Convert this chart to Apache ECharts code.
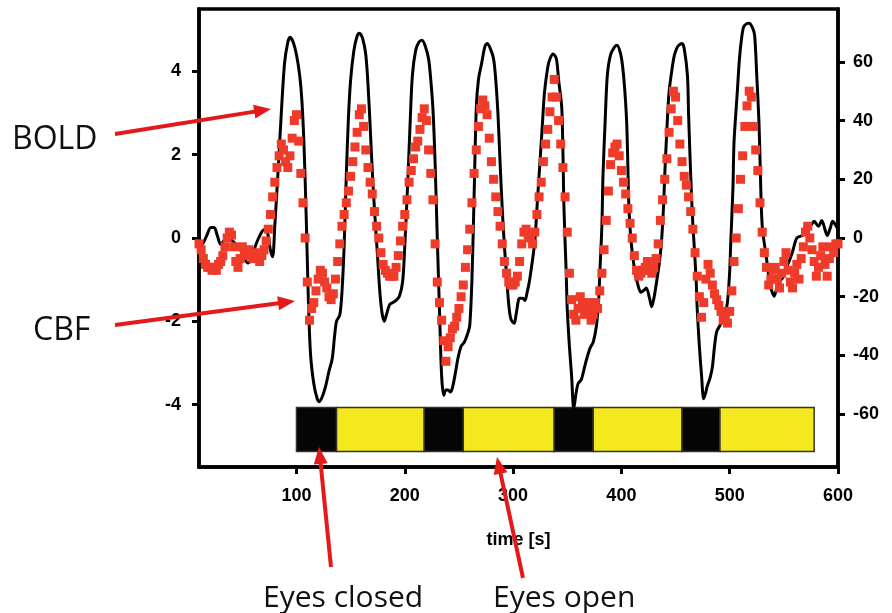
<!DOCTYPE html>
<html>
<head>
<meta charset="utf-8">
<script src="https://cdn.jsdelivr.net/npm/echarts@6/dist/echarts.min.js"></script>
<style>
html,body{margin:0;padding:0;background:#fff;}
#chart{width:892px;height:613px;}
</style>
</head>
<body>
<div id="chart"></div>
<script>
// ---- tick labels ----
const timeTicks = [100, 200, 300, 400, 500, 600];
const boldTicks = [-4, -2, 0, 2, 4];
const cbfTicks = [-60, -40, -20, 0, 20, 40, 60];

// ---- BOLD signal (left axis, %) ----
const boldTime = [10,13,17,21,24,27,30,34,39,44,50,55,58,62,66,70,73,76,78,80,83,86,89,92,94,97,100,103,105,107,109,111,113,116,119,121,124,127,130,133,135,137,140,142,144,146,148,150,153,156,158,161,164,166,168,170,172,175,177,179,181,183,186,189,192,195,198,200,203,205,207,210,213,216,219,222,224,226,228,230,232,234,236,238,240,242,244,247,249,252,255,258,260,262,264,266,268,271,274,276,279,282,284,286,288,290,292,294,296,298,301,303,306,309,311,313,315,317,320,322,324,327,329,332,334,337,340,342,345,347,349,350,352,354,356,358,360,363,366,368,371,374,377,379,380,382,383,385,387,390,394,396,399,401,403,405,407,409,412,415,418,421,423,426,428,430,432,435,437,439,440,442,444,447,449,452,456,458,461,462,464,466,467,469,470,472,474,476,478,479,482,484,486,488,491,493,496,498,500,501,503,504,507,509,511,513,516,518,521,523,525,527,528,530,534,536,538,541,543,546,549,552,555,558,562,567,571,575,578,582,585,588,590,593,595,598,600];
const boldValues = [0,-0.15,0.05,0.25,0.25,0.05,-0.15,-0.05,-0.05,-0.15,-0.35,-0.6,-0.55,-0.2,0.05,0.2,0.15,-0.3,-0.45,0.3,1.6,3.0,4.2,4.7,4.82,4.7,4.4,3.9,3.3,2.2,0.5,-1.5,-2.8,-3.5,-3.85,-3.93,-3.8,-3.55,-3.2,-2.9,-2.4,-2.0,-1.85,-1.3,-0.2,1.5,2.9,3.8,4.5,4.85,4.92,4.8,4.4,3.7,2.7,1.6,0.7,-0.5,-1.3,-1.8,-2.0,-1.85,-1.6,-1.55,-1.5,-1.4,-1.05,-0.2,1.5,2.8,3.9,4.5,4.7,4.75,4.6,4.3,3.8,3.1,1.8,0.0,-1.7,-3.3,-3.78,-3.65,-3.65,-3.7,-3.6,-3.2,-2.9,-2.6,-2.5,-2.3,-2.1,-1.0,1.0,3.1,3.8,4.2,4.6,4.67,4.55,4.3,3.8,3.0,1.8,0.7,-0.2,-0.9,-1.6,-1.95,-2.05,-1.8,-1.45,-1.45,-1.5,-1.3,-1.05,-0.7,-0.1,0.7,1.5,2.7,3.5,4.1,4.3,4.42,4.3,3.8,3.1,0.7,-0.8,-1.7,-2.6,-3.3,-4.1,-3.75,-3.5,-3.4,-3.1,-2.9,-2.65,-2.5,-2.1,-1.5,-0.9,0.3,1.5,2.8,3.9,4.4,4.6,4.63,4.45,4.15,3.6,2.7,0.7,-0.1,-0.73,-1.1,-1.3,-1.25,-1.2,-1.45,-1.65,-1.45,-1.14,-0.6,-0.1,0.8,1.5,2.6,3.5,4.1,4.4,4.6,4.67,4.55,3.9,3.0,1.5,0.3,-0.1,-1.0,-1.7,-2.6,-3.3,-3.86,-3.7,-3.58,-3.35,-3.1,-2.6,-2.25,-2.1,-2.0,-1.8,-1.53,-0.8,-0.1,1.2,2.3,3.5,4.3,4.8,5.08,5.15,5.16,5.05,4.87,3.9,2.8,1.9,0.3,-0.5,-0.9,-1.2,-1.4,-1.25,-1.05,-0.95,-0.73,-0.55,-0.33,0,0.06,0.15,0.3,0.4,0.28,0.42,0.2,0.06,0.25,0.4,0.3,0.2];

// ---- CBF signal (right axis, %), sampled every 2 s from t = 10 s ----
const cbfStart = 10;
const cbfStep = 2;
const cbfValues = [
 -2,-4,-7,-9,-10,-10,-11,-10,-11,-9,
 -8,-6,-3,0,2,1,-3,-8,-10,-7,
 -3,-5,-6,-4,-6,-7,-5,-7,-8,-6,
 -4,-1,3,8,14,19,24,28,32,30,
 26,24,28,34,40,42,33,22,12,0,
 -15,-28,-24,-22,-18,-14,-11,-12,-15,-17,
 -20,-21,-19,-14,-8,-2,4,8,12,16,
 21,26,31,36,42,44,38,30,24,19,
 15,9,4,0,-5,-9,-11,-12,-13,-13,
 -13,-10,-6,-1,4,8,13,19,23,27,
 31,33,37,41,44,40,30,22,13,-2,
 -15,-22,-28,-35,-42,-37,-34,-31,-30,-27,
 -24,-20,-16,-10,-4,3,12,22,30,38,
 44,47,45,42,34,26,20,14,9,4,
 -2,-8,-12,-15,-16,-16,-15,-13,-8,-2,
 2,3,1,0,-2,2,8,14,19,26,
 32,37,43,48,54,48,40,32,24,14,
 2,-12,-21,-26,-28,-24,-20,-23,-26,-22,
 -25,-28,-26,-22,-24,-18,-12,-4,6,16,
 25,29,31,32,28,23,19,15,10,5,
 0,-6,-11,-13,-12,-11,-10,-8,-11,-12,
 -10,-7,-2,6,13,20,27,36,44,50,
 48,40,32,26,21,18,14,9,3,-5,
 -13,-20,-27,-22,-14,-9,-12,-16,-19,-21,
 -23,-25,-28,-27,-29,-25,-18,-8,0,10,
 20,28,38,45,50,48,38,30,23,12,
 2,-5,-10,-16,-14,-11,-10,-14,-17,-12,
 -8,-5,-11,-15,-17,-12,-9,-14,-7,-3,
 2,4,0,-4,-8,-13,-10,-6,-3,-9,
 -13,-7,-3,-5,-2,-2
];

// ---- stimulation blocks (s) ----
const blockStart = [100, 137, 218, 254, 338, 374, 456, 491];
const blockEnd   = [137, 218, 254, 338, 374, 456, 491, 578];
const blockState = ['closed','open','closed','open','closed','open','closed','open'];

// ---- annotation texts ----
const labels = ['BOLD', 'CBF', 'Eyes closed', 'Eyes open'];

const BAR_TOP = -4.07, BAR_BOTTOM = -5.13;
const RED = '#ef3b2a';
const ARROW = '#e3191c';
const stateColor = {closed: '#050505', open: '#f4e81e'};

const chart = echarts.init(document.getElementById('chart'));

const boldData = boldTime.map((t, i) => [t, boldValues[i]]);
const cbfData = cbfValues.map((v, i) => [cbfStart + i * cbfStep, v]);
const blocks = blockStart.map((s, i) => [
  {xAxis: s, yAxis: BAR_TOP, itemStyle: {color: stateColor[blockState[i]]}},
  {xAxis: blockEnd[i], yAxis: BAR_BOTTOM}
]);

function arrow(x1, y1, x2, y2) {
  const dx = x2 - x1, dy = y2 - y1;
  const len = Math.sqrt(dx * dx + dy * dy);
  const ux = dx / len, uy = dy / len;
  const hl = 17, hw = 7;
  const bx = x2 - ux * hl, by = y2 - uy * hl;
  return {
    type: 'group', z: 100,
    children: [
      {type: 'line', z: 100, shape: {x1: x1, y1: y1, x2: bx + ux * 2, y2: by + uy * 2},
       style: {stroke: ARROW, lineWidth: 4}},
      {type: 'polygon', z: 100,
       shape: {points: [[x2, y2], [bx - uy * hw, by + ux * hw], [bx + uy * hw, by - ux * hw]]},
       style: {fill: ARROW}}
    ]
  };
}

function txt(t, x, y, size) {
  return {type: 'text', z: 100, x: x, y: y,
    style: {text: t, fill: '#111', fontFamily: 'Open Sans', fontSize: size,
            align: 'left', verticalAlign: 'middle'}};
}

const tickFont = {color: '#000', fontFamily: 'Liberation Sans', fontWeight: 'bold', fontSize: 18};

const option = {
  animation: false,
  backgroundColor: '#fff',
  grid: {left: 199, right: 54, top: 9, bottom: 146, show: true,
         borderColor: '#000', borderWidth: 3.5, backgroundColor: 'transparent'},
  xAxis: {
    type: 'value', min: 10, max: 600,
    name: 'time [s]', nameLocation: 'middle', nameGap: 64,
    nameTextStyle: {color: '#000', fontFamily: 'Liberation Sans', fontWeight: 'bold', fontSize: 18},
    axisLine: {onZero: false, lineStyle: {color: '#000', width: 3.5}},
    axisTick: {customValues: timeTicks, length: 7, lineStyle: {color: '#000', width: 3}},
    axisLabel: Object.assign({customValues: timeTicks, margin: 20}, tickFont),
    splitLine: {show: false}
  },
  yAxis: [
    {
      type: 'value', min: -5.5, max: 5.5, position: 'left',
      axisLine: {show: true, onZero: false, lineStyle: {color: '#000', width: 3.5}},
      axisTick: {show: true, customValues: boldTicks, length: 7, lineStyle: {color: '#000', width: 3}},
      axisLabel: Object.assign({customValues: boldTicks, margin: 18}, tickFont),
      splitLine: {show: false}
    },
    {
      type: 'value', min: -78, max: 78, position: 'right',
      axisLine: {show: true, onZero: false, lineStyle: {color: '#000', width: 3.5}},
      axisTick: {show: true, customValues: cbfTicks, length: 7, lineStyle: {color: '#000', width: 3}},
      axisLabel: Object.assign({customValues: cbfTicks, margin: 15}, tickFont),
      splitLine: {show: false}
    }
  ],
  series: [
    {
      name: 'BOLD', type: 'line', yAxisIndex: 0, data: boldData,
      showSymbol: false, smooth: 0.3, z: 3,
      lineStyle: {color: '#000', width: 3},
      markArea: {
        silent: true,
        itemStyle: {borderColor: '#333', borderWidth: 1.5},
        label: {show: false},
        data: blocks
      }
    },
    {
      name: 'CBF', type: 'scatter', yAxisIndex: 1, data: cbfData,
      symbol: 'rect', symbolSize: 9, z: 4,
      itemStyle: {color: RED, opacity: 1}
    }
  ],
  graphic: [
    txt(labels[0], 12, 140, 32),
    txt(labels[1], 33, 331, 32),
    txt(labels[2], 263, 598, 30),
    txt(labels[3], 493, 598, 30),
    arrow(115, 134, 271, 109),
    arrow(115, 325, 295, 301),
    arrow(331, 567, 319, 447),
    arrow(523, 578, 497, 457)
  ]
};

chart.setOption(option);
</script>
</body>
</html>
